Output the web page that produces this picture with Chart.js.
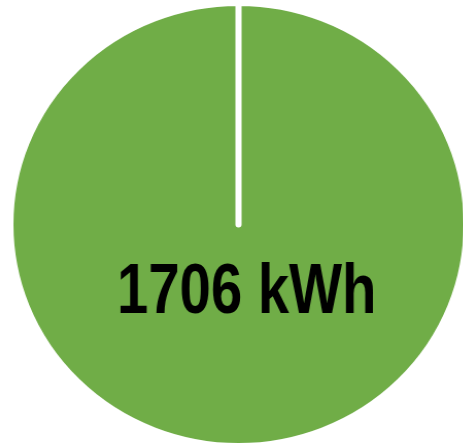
<!DOCTYPE html>
<html>
<head>
<meta charset="utf-8">
<script src="https://cdn.jsdelivr.net/npm/chart.js@4.4.0/dist/chart.umd.min.js"></script>
<style>
  html, body { margin: 0; padding: 0; background: #ffffff; }
  #clip { position: absolute; left: 0; top: 0; width: 463px; height: 447px; overflow: hidden; }
  #wrap { position: absolute; left: 14px; top: 0px; width: 449px; height: 449px;
          transform: scaleX(1.03); transform-origin: 224.5px 224.5px; }
</style>
</head>
<body>
<div id="clip">
  <div id="wrap">
    <canvas id="energyChart" width="449" height="449"></canvas>
  </div>
</div>
<script>
var categories = ['Energy'];
var energyValues = [1706];
var unitLabel = 'kWh';

// total label in the middle of the pie, slightly condensed like the original
var totalLabel = {
    id: 'totalLabel',
    afterDraw: function (chart) {
        var ctx = chart.ctx;
        var text = energyValues[0] + ' ' + unitLabel;
        ctx.save();
        ctx.font = 'bold 70px "Liberation Sans", Arial, sans-serif';
        ctx.fillStyle = '#000000';
        ctx.textAlign = 'center';
        ctx.textBaseline = 'middle';
        ctx.translate(232.5, 294);
        ctx.scale(0.78, 1);
        ctx.fillText(text, 0, 0);
        ctx.restore();
    }
};

document.addEventListener('DOMContentLoaded', function () {
    var ctx = document.getElementById('energyChart').getContext('2d');
    new Chart(ctx, {
        type: 'pie',
        data: {
            labels: categories,
            datasets: [{
                data: energyValues,
                backgroundColor: '#70ad47',
                borderColor: '#ffffff',
                borderWidth: 6,
                borderJoinStyle: 'round'
            }]
        },
        options: {
            responsive: false,
            animation: false,
            layout: { padding: 0 },
            plugins: {
                legend: { display: false },
                tooltip: { enabled: false }
            }
        },
        plugins: [totalLabel]
    });
});
</script>
</body>
</html>
